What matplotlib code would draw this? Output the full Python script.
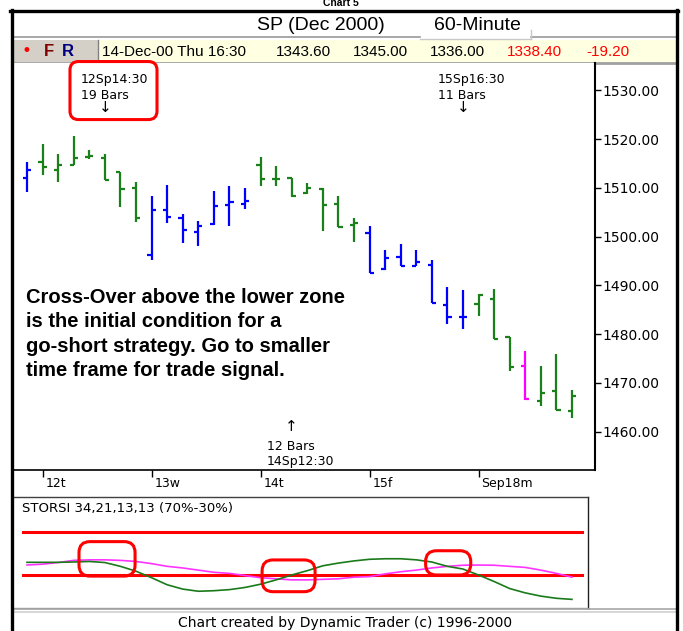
import matplotlib
matplotlib.use("Agg")
import matplotlib.pyplot as plt
from matplotlib.patches import Rectangle, FancyBboxPatch
from matplotlib.lines import Line2D
from matplotlib.transforms import ScaledTranslation

# ---------------- data ----------------
bar_open = [1512.1, 1515.3, 1513.7, 1514.6, 1516.3, 1516.2, 1513.2, 1509.9, 1496.3, 1505.5,
            1503.8, 1500.9, 1502.6, 1506.4, 1506.7, 1514.6, 1511.8, 1512.1, 1508.9, 1509.8,
            1506.7, 1502.4, 1500.7, 1493.3, 1495.9, 1494.0, 1494.2, 1486.0, 1483.5, 1486.1,
            1487.3, 1479.4, 1473.4, 1466.4, 1468.3, 1464.2]
bar_high = [1515.4, 1519.0, 1517.0, 1520.7, 1517.8, 1516.9, 1513.3, 1511.2, 1508.4, 1510.6,
            1504.6, 1503.3, 1509.4, 1510.3, 1509.9, 1516.3, 1514.4, 1512.1, 1511.0, 1509.9,
            1508.4, 1503.8, 1502.2, 1497.2, 1498.5, 1497.3, 1495.2, 1489.7, 1489.0, 1488.3,
            1489.3, 1479.4, 1476.6, 1473.4, 1475.9, 1468.6]
bar_low = [1509.2, 1512.7, 1511.3, 1514.6, 1515.9, 1511.6, 1506.0, 1503.1, 1495.2, 1502.8,
           1498.7, 1498.0, 1502.4, 1502.1, 1505.6, 1510.4, 1510.4, 1508.2, 1508.8, 1501.2,
           1501.9, 1499.0, 1492.6, 1493.1, 1493.9, 1494.0, 1486.4, 1482.1, 1481.1, 1483.8,
           1479.0, 1472.4, 1466.6, 1465.3, 1464.4, 1462.8]
bar_close = [1513.7, 1514.3, 1514.7, 1516.2, 1516.6, 1511.6, 1509.8, 1503.8, 1505.5, 1504.1,
             1501.4, 1502.2, 1506.3, 1507.2, 1507.4, 1511.8, 1511.8, 1508.4, 1509.9, 1506.5,
             1501.9, 1502.8, 1492.6, 1495.6, 1494.0, 1494.9, 1486.4, 1483.5, 1483.5, 1488.0,
             1479.0, 1473.3, 1466.7, 1467.9, 1464.4, 1467.4]
bar_state = ["b", "g", "g", "g", "g", "g", "g", "g", "b", "b",
             "b", "b", "b", "b", "b", "g", "g", "g", "g", "g",
             "g", "g", "b", "b", "b", "b", "b", "b", "b", "g",
             "g", "g", "m", "g", "g", "g"]
state_colors = {"b": "#0000ff", "g": "#1a801a", "m": "#ff00ff"}

day_tick_index = [1, 8, 15, 22, 29]
day_labels = ["12t", "13w", "14t", "15f", "Sep18m"]
price_ticks = [1460, 1470, 1480, 1490, 1500, 1510, 1520, 1530]

storsi_fast = [41.7, 41.7, 41.7, 42.0, 42.5, 41.5, 38.0, 33.5, 27.5, 21.0,
               17.0, 15.0, 15.5, 16.5, 18.5, 21.5, 25.5, 30.0, 34.0, 38.5,
               41.0, 43.0, 44.5, 45.0, 45.0, 44.0, 42.0, 38.0, 35.5, 30.0,
               24.0, 17.5, 13.5, 10.5, 8.5, 7.5]
storsi_slow = [39.2, 40.0, 41.5, 43.5, 44.0, 44.0, 43.5, 42.5, 40.5, 38.0,
               36.5, 34.5, 32.5, 31.5, 29.5, 27.5, 26.5, 25.5, 25.5, 26.0,
               26.5, 28.0, 28.5, 31.0, 33.0, 34.5, 36.5, 38.0, 39.0, 39.2,
               39.0, 38.0, 37.0, 34.5, 31.5, 28.0]
zone_upper = 70
zone_lower = 30

header_values = ["14-Dec-00 Thu 16:30", "1343.60", "1345.00", "1336.00", "1338.40", "-19.20"]
header_value_colors = ["black", "black", "black", "black", "#ff0000", "#ff0000"]

# ---------------- figure ----------------
W, H = 683, 631
fig = plt.figure(figsize=(W / 100, H / 100), dpi=100)
fig.patch.set_facecolor("white")


def frac_rect(x0, y0, x1, y1):
    return [x0 / W, 1 - y1 / H, (x1 - x0) / W, (y1 - y0) / H]


# background / header axes in pixel units
axb = fig.add_axes([0, 0, 1, 1], zorder=0)
axb.set_xlim(0, W)
axb.set_ylim(H, 0)
axb.axis("off")

axb.text(341, 8.5, "Chart 5", ha="center", va="bottom", fontsize=7.5, fontweight="bold",
         family="Liberation Sans")
axb.text(321, 25, "SP (Dec 2000)", ha="center", va="center", fontsize=14, family="Liberation Sans")
axb.add_patch(Rectangle((420, 13), 111, 26, facecolor="white", edgecolor="none"))
axb.text(477, 25.5, "60-Minute", ha="center", va="center", fontsize=14, family="Liberation Sans")
axb.add_line(Line2D([12, 420], [37, 37], color="#9a9a9a", lw=1.2))
axb.add_line(Line2D([531, 676], [37, 37], color="#9a9a9a", lw=1.2))
axb.add_line(Line2D([420, 531], [39, 39], color="#c8c8c8", lw=1.0))
axb.add_line(Line2D([531, 531], [30, 39], color="#c8c8c8", lw=1.0))

axb.add_patch(Rectangle((12, 40), 664, 22, facecolor="#ffffe1", edgecolor="none"))
axb.add_patch(Rectangle((12, 40), 86, 22, facecolor="#d4d0c8", edgecolor="none"))
axb.add_line(Line2D([98, 98], [40, 62], color="#808080", lw=1.0))
axb.text(26, 51, "\u2022", ha="center", va="center", fontsize=12, color="#ff0000",
         family="DejaVu Sans")
axb.text(44, 51, "F", ha="left", va="center", fontsize=12, color="#800000",
         family="Liberation Sans", fontweight="bold")
axb.text(62, 51, "R", ha="left", va="center", fontsize=12, color="#000080",
         family="Liberation Sans", fontweight="bold")
header_x = [101.6, 276, 352.6, 430, 507, 586]
for xv, txt, col in zip(header_x, header_values, header_value_colors):
    axb.text(xv, 51.5, txt, ha="left", va="center", fontsize=11, color=col,
             family="Liberation Sans")
axb.add_line(Line2D([12, 676], [62.5, 62.5], color="#a0a0a0", lw=2.0))

axb.add_line(Line2D([12, 676], [608.5, 608.5], color="#a8a8a8", lw=1.2))
axb.add_line(Line2D([12, 676], [611.5, 611.5], color="#d0d0d0", lw=1.2))
axb.text(345, 623, "Chart created by Dynamic Trader (c) 1996-2000", ha="center", va="center",
         fontsize=10, family="DejaVu Sans")

# ---------------- price panel ----------------
ax = fig.add_axes(frac_rect(12, 63, 595, 470), zorder=2)
ax.set_facecolor("white")
ax.set_xlim(-0.963, 36.48)
ax.set_ylim(1452.15, 1535.6)

xs = list(range(len(bar_open)))
cols = [state_colors[s] for s in bar_state]
tick_len = 0.27
ax.vlines(xs, bar_low, bar_high, colors=cols, lw=1.6)
ax.hlines(bar_open, [x - tick_len for x in xs], xs, colors=cols, lw=1.6)
ax.hlines(bar_close, xs, [x + tick_len for x in xs], colors=cols, lw=1.6)

for s in ["left", "top"]:
    ax.spines[s].set_visible(False)
ax.spines["right"].set_color("black")
ax.spines["right"].set_linewidth(1.5)
ax.spines["bottom"].set_color("black")
ax.spines["bottom"].set_linewidth(1.2)

ax.yaxis.tick_right()
ax.set_yticks(price_ticks)
ax.set_yticklabels([f"{v:.2f}" for v in price_ticks])
ax.tick_params(axis="y", direction="out", length=4, width=1, pad=1, labelsize=10)
ax.set_xticks(day_tick_index)
ax.set_xticklabels(day_labels)
ax.tick_params(axis="x", direction="out", length=5, width=1, pad=0, labelsize=9)
for lab in ax.get_xticklabels():
    lab.set_horizontalalignment("left")
    lab.set_transform(lab.get_transform() + ScaledTranslation(2 / 72, 0, fig.dpi_scale_trans))

small = dict(fontsize=9, family="DejaVu Sans", va="center", ha="left")
ax.text(3.47, 1532.2, "12Sp14:30", **small)
ax.text(3.47, 1529.0, "19 Bars", **small)
ax.text(5.0, 1526.4, "\u2193", fontsize=11, family="DejaVu Sans", ha="center", va="center")
ax.text(26.38, 1532.2, "15Sp16:30", **small)
ax.text(26.38, 1529.0, "11 Bars", **small)
ax.text(28.0, 1526.4, "\u2193", fontsize=11, family="DejaVu Sans", ha="center", va="center")
ax.text(17.0, 1461.0, "\u2191", fontsize=11, family="DejaVu Sans", ha="center", va="center")
ax.text(15.4, 1456.9, "12 Bars", **small)
ax.text(15.4, 1453.9, "14Sp12:30", **small)

note_lines = ["Cross-Over above the lower zone", "is the initial condition for a",
              "go-short strategy. Go to smaller", "time frame for trade signal."]
for i, line in enumerate(note_lines):
    ax.text(-0.06, 1487.5 - 5.0 * i, line, fontsize=14.5, fontweight="bold",
            family="Liberation Sans", ha="left", va="center")

# red rounded highlight box
ax.add_patch(FancyBboxPatch((2.76, 1524.0), 5.59, 11.9,
                            boxstyle="round,pad=0,rounding_size=0.55",
                            mutation_aspect=3.19, fill=False, edgecolor="#ff0000",
                            lw=2.2, clip_on=False, zorder=5))

# ---------------- indicator panel ----------------
axi = fig.add_axes(frac_rect(12, 497, 588, 608), zorder=2)
axi.set_facecolor("white")
axi.set_xlim(-0.963, 36.03)
axi.set_ylim(-0.46, 102)
axi.set_xticks([])
axi.set_yticks([])
axi.spines["left"].set_visible(False)
axi.spines["top"].set_color("#404040")
axi.spines["right"].set_color("#202020")
axi.spines["bottom"].set_color("#a0a0a0")
for s in ["top", "right", "bottom"]:
    axi.spines[s].set_linewidth(1.0)

axi.axhline(zone_upper, xmin=0.019, xmax=0.99, color="#ff0000", lw=2.2)
axi.axhline(zone_lower, xmin=0.019, xmax=0.99, color="#ff0000", lw=2.2)
axi.plot(xs, storsi_slow, color="#ff33ff", lw=1.2)
axi.plot(xs, storsi_fast, color="#1a7a1a", lw=1.2)
axi.text(-0.3, 91.5, "STORSI 34,21,13,13 (70%-30%)", fontsize=9.5, family="DejaVu Sans",
         ha="left", va="center")

for (x0, x1, y0, y1) in [(3.34, 6.94, 29.0, 60.8), (15.1, 18.5, 14.6, 43.9),
                         (25.6, 28.5, 30.0, 52.4)]:
    axi.add_patch(FancyBboxPatch((x0, y0), x1 - x0, y1 - y0,
                                 boxstyle="round,pad=0,rounding_size=0.7",
                                 mutation_aspect=14.38, fill=False, edgecolor="#ff0000",
                                 lw=2.2, zorder=5))

# ---------------- outer frame ----------------
axt = fig.add_axes([0, 0, 1, 1], zorder=10)
axt.set_xlim(0, W)
axt.set_ylim(H, 0)
axt.axis("off")
axt.patch.set_visible(False)
axt.add_line(Line2D([11.5, 11.5], [9.5, H + 5], color="black", lw=2.4))
axt.add_line(Line2D([10, 678], [10.5, 10.5], color="black", lw=2.4))
axt.add_line(Line2D([676.5, 676.5], [9.5, H + 5], color="black", lw=2.4))

fig.savefig("out.png", dpi=100)
